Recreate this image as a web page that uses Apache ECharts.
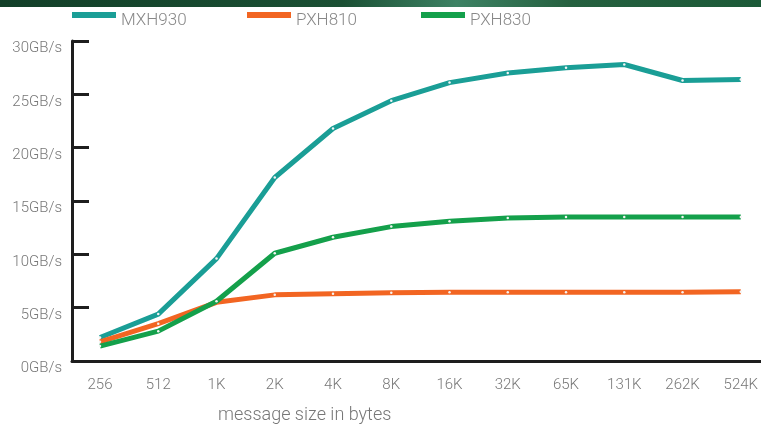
<!DOCTYPE html>
<html>
<head>
<meta charset="utf-8">
<script src="https://cdn.jsdelivr.net/npm/echarts@6/dist/echarts.min.js"></script>
<style>
html,body{margin:0;padding:0;background:#fff;}
#chart{width:761px;height:427px;}
</style>
</head>
<body>
<div id="chart"></div>
<script>
var categories = ['256','512','1K','2K','4K','8K','16K','32K','65K','131K','262K','524K'];
var mxh930 = [2.2, 4.4, 9.6, 17.2, 21.8, 24.4, 26.1, 27.0, 27.5, 27.8, 26.3, 26.4];
var pxh810 = [1.8, 3.5, 5.5, 6.2, 6.3, 6.4, 6.45, 6.45, 6.45, 6.45, 6.45, 6.5];
var pxh830 = [1.4, 2.8, 5.6, 10.1, 11.6, 12.6, 13.1, 13.4, 13.5, 13.5, 13.5, 13.5];
var seriesNames = ['MXH930', 'PXH810', 'PXH830'];
var yUnit = 'GB/s';
var xTitle = 'message size in bytes';

var colors = ['#1a9e96', '#f26522', '#14a04b'];
var FONT = 'Roboto, "Liberation Sans", sans-serif';
var chart = echarts.init(document.getElementById('chart'));

var dataArrs = [mxh930, pxh810, pxh830];
var legendLefts = [72, 247, 421];
var legends = seriesNames.map(function (n, i) {
  return {
    left: legendLefts[i], top: 12, padding: 0,
    icon: 'rect', itemWidth: 44, itemHeight: 6,
    data: [{ name: n, itemStyle: { color: colors[i] } }],
    formatter: '{a|{name}}',
    textStyle: { color: '#888', fontSize: 17, fontWeight: 300, fontFamily: FONT,
      rich: { a: { color: '#888', fontSize: 17, fontWeight: 300, fontFamily: FONT, padding: [12, 0, 0, 0] } } }
  };
});

var option = {
  animation: false,
  backgroundColor: '#fff',
  title: {
    text: xTitle, left: 213, top: 401,
    textStyle: { color: '#777', fontSize: 18, fontWeight: 300, fontFamily: FONT }
  },
  graphic: [{
    type: 'rect', left: 0, top: 0, shape: { width: 761, height: 7 },
    style: { fill: new echarts.graphic.LinearGradient(0, 0, 1, 0, [
      { offset: 0, color: '#123f28' }, { offset: 0.45, color: '#1b5034' },
      { offset: 0.6, color: '#3d8264' }, { offset: 0.75, color: '#25603f' }, { offset: 1, color: '#1c5a38' }]) },
    silent: true
  }],
  legend: legends,
  grid: [
    { left: 100, right: 20, top: 41, bottom: 66 },
    { left: 72, right: 0, top: 41, bottom: 66 }
  ],
  xAxis: [
    { type: 'category', gridIndex: 0, data: categories, boundaryGap: false,
      axisLine: { show: false }, axisTick: { show: false }, splitLine: { show: false },
      axisLabel: { color: '#777', fontSize: 15, fontWeight: 300, fontFamily: FONT, margin: 17, interval: 0 } },
    { type: 'value', gridIndex: 1, min: 0, max: 1,
      axisLine: { show: true, lineStyle: { color: '#1e1e1e', width: 3 } },
      axisTick: { show: false }, axisLabel: { show: false }, splitLine: { show: false } }
  ],
  yAxis: [
    { type: 'value', gridIndex: 0, min: 0, max: 30, interval: 5, show: false },
    { type: 'value', gridIndex: 1, min: 0, max: 30, interval: 5,
      axisLine: { show: true, lineStyle: { color: '#1e1e1e', width: 3 } },
      axisTick: { show: true, inside: true, length: 17, lineStyle: { color: '#1e1e1e', width: 3 } },
      splitLine: { show: false },
      axisLabel: { color: '#777', fontSize: 15, fontWeight: 300, fontFamily: FONT, margin: 10,
        verticalAlign: 'top', formatter: function (v) { return v + yUnit; } } }
  ],
  series: seriesNames.map(function (n, i) {
    return {
      name: n, type: 'line', xAxisIndex: 0, yAxisIndex: 0,
      data: dataArrs[i],
      symbol: 'circle', symbolSize: 2.5, showSymbol: true,
      lineStyle: { color: colors[i], width: 5 },
      itemStyle: { color: '#f4f4f4' },
      z: 3 + i
    };
  })
};
chart.setOption(option);
</script>
</body>
</html>
